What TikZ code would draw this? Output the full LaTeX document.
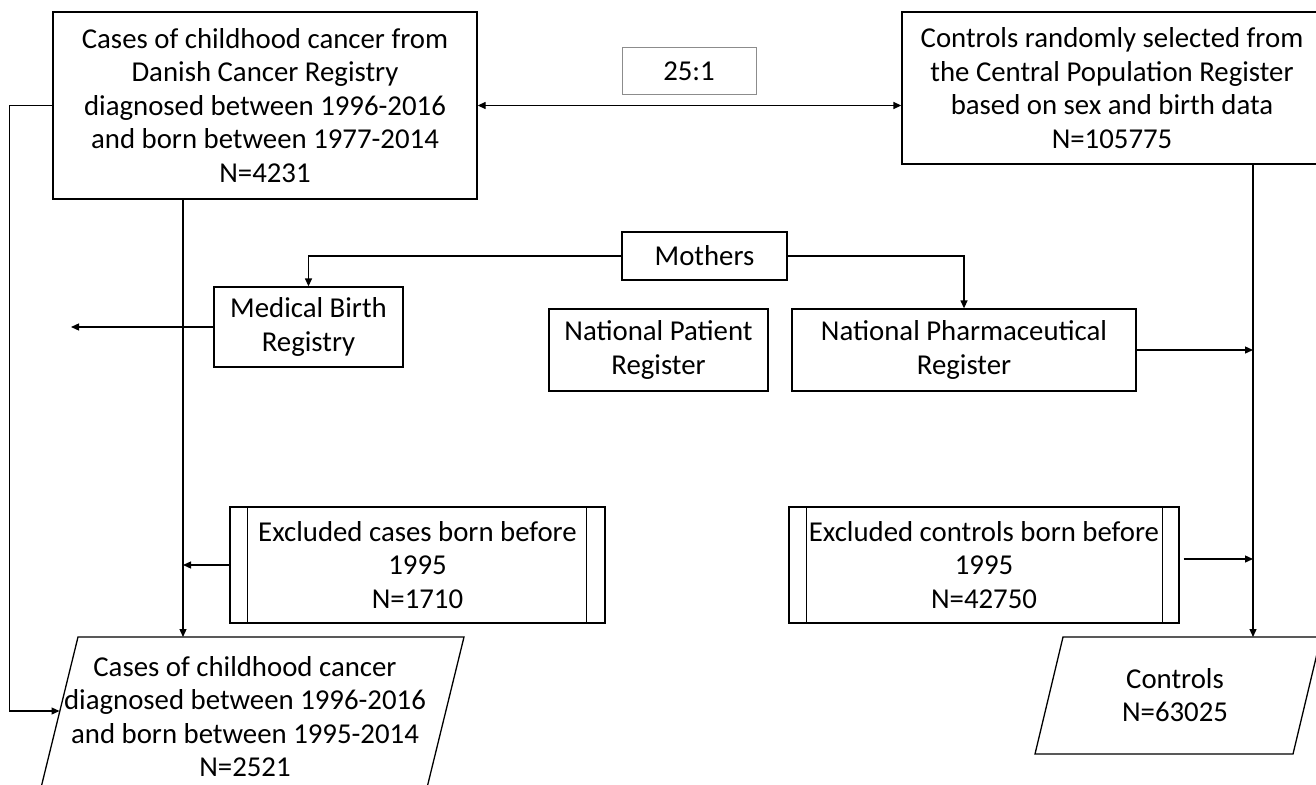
\documentclass[tikz,border=0pt]{standalone}
\usepackage{fontspec}
\setmainfont{Carlito}
\usetikzlibrary{arrows.meta,calc}
\begin{document}
\begin{tikzpicture}[x=1pt,y=-1pt,
  every node/.style={font=\fontsize{28.8}{33.5}\selectfont, align=center, inner sep=0pt},
  box/.style={draw=black, line width=1.3pt, rectangle},
  line/.style={draw=black, line width=1.3pt},
  arr/.style={draw=black, line width=1.3pt, -{Triangle[length=8pt,width=7pt]}},
  darr/.style={draw=black, line width=1.3pt, {Triangle[length=8pt,width=7pt]}-{Triangle[length=8pt,width=7pt]}}]
\useasboundingbox[fill=white] (0,0) rectangle (1316,784);

% top boxes
\node[box, minimum width=424pt, minimum height=187pt] (A) at (265,105.5)
  {Cases of childhood cancer from\\Danish Cancer Registry\\diagnosed between 1996-2016\\and born between 1977-2014\\N=4231};
\node[box, minimum width=420pt, minimum height=152pt] (B) at (1112,88)
  {Controls randomly selected from\\the Central Population Register\\based on sex and birth data\\N=105775};
\node[draw=black!45, line width=1pt, minimum width=134pt, minimum height=46pt] (R) at (689,71) {25:1};

% middle boxes
\node[box, minimum width=165pt, minimum height=48pt] (M) at (704.5,256) {Mothers};
\node[box, minimum width=189pt, minimum height=80pt] (MB) at (308.5,327) {Medical Birth\\Registry};
\node[box, minimum width=219pt, minimum height=82pt] (NP) at (658.5,350) {National Patient\\Register};
\node[box, minimum width=344pt, minimum height=82pt] (NPh) at (964,350) {National Pharmaceutical\\Register};

% excluded boxes
\node[box, minimum width=375pt, minimum height=116pt] (E1) at (417.5,565)
  {Excluded cases born before\\1995\\N=1710};
\draw[line] ([xshift=18pt]E1.north west) -- ([xshift=18pt]E1.south west);
\draw[line] ([xshift=-19pt]E1.north east) -- ([xshift=-19pt]E1.south east);
\node[box, minimum width=390pt, minimum height=116pt] (E2) at (984,565)
  {Excluded controls born before\\1995\\N=42750};
\draw[line] ([xshift=18pt]E2.north west) -- ([xshift=18pt]E2.south west);
\draw[line] ([xshift=-17pt]E2.north east) -- ([xshift=-17pt]E2.south east);

% result parallelograms
\draw[line] (78,637) -- (464,637) -- (424,800) -- (38,800) -- cycle;
\node (P1) at (245,716.5) {Cases of childhood cancer\\diagnosed between 1996-2016\\and born between 1995-2014\\N=2521};
\draw[line] (1063,637) -- (1321,637) -- (1293,754) -- (1035,754) -- cycle;
\node (P2) at (1175,695) {Controls\\N=63025};

% coordinates
\coordinate (P1top) at (183,637);
\coordinate (P1L) at (59.5,711);
\coordinate (P2top) at (1253,637);
\coordinate (MBend) at (71,327);
\coordinate (E2s) at ($(E2.east)+(4,-6)$);

% connectors
\draw[darr] (A.east) -- (A.east -| B.west);
\draw[arr] (A.west) -- ++(-43,0) |- (P1L);
\draw[arr] (A.south -| P1top) -- (P1top);
\draw[arr] (E1.west) -- (E1.west -| P1top);
\draw[arr] (M.west) -| (MB.north);
\draw[arr] (M.east) -| (NPh.north);
\draw[arr] (MB.west) -- (MBend);
\draw[arr] (B.south -| P2top) -- (P2top);
\draw[arr] (NPh.east) -- (NPh.east -| P2top);
\draw[arr] (E2s) -- (E2s -| P2top);
\end{tikzpicture}
\end{document}
